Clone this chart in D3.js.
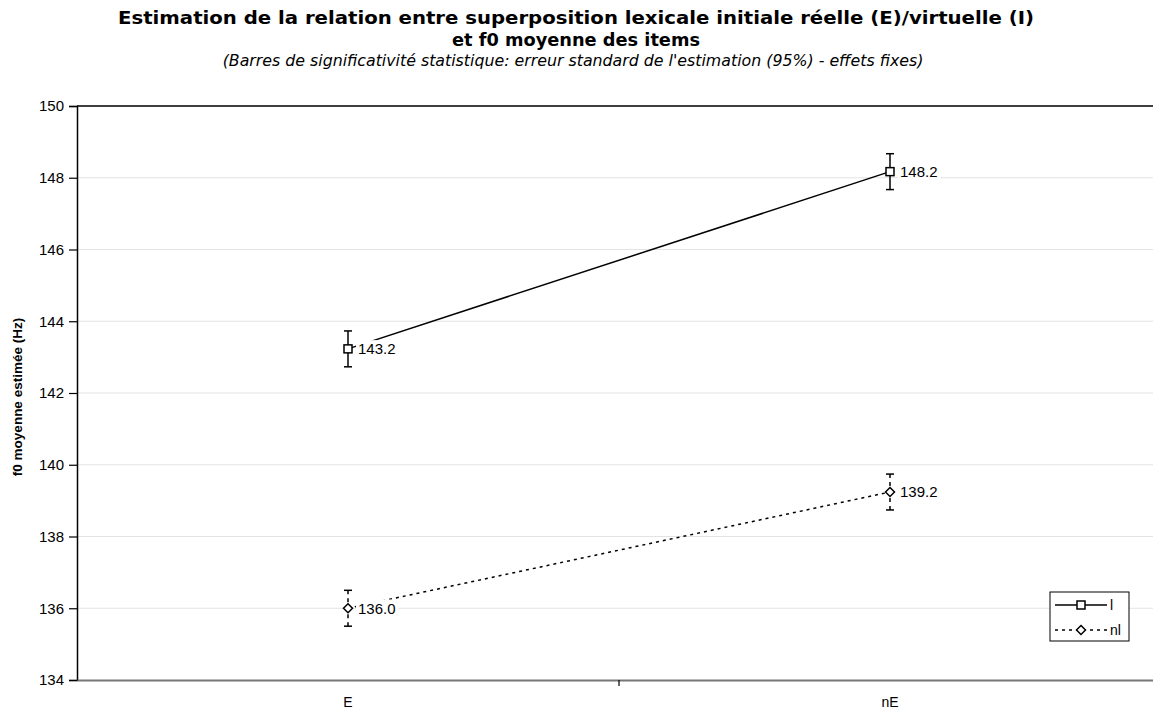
<!DOCTYPE html>
<html><head><meta charset="utf-8">
<script src="https://cdn.jsdelivr.net/npm/d3@7"></script>
<style>body{margin:0;background:#fff}svg{display:block}</style>
</head><body>
<svg id="c" width="1153" height="713"></svg>
<script>
const categories = ["E", "nE"];
const seriesNames = ["I", "nI"];
const valuesI = [143.23, 148.17];
const valuesNI = [136.0, 139.24];
const errI = [0.5, 0.5];
const errNI = [0.5, 0.5];
const yTicks = [134, 136, 138, 140, 142, 144, 146, 148, 150];
const labelsI = ["143.2", "148.2"];
const labelsNI = ["136.0", "139.2"];

const svg = d3.select("#c");
const m = {l: 77, r: 1161, t: 106, b: 680};
const x = d3.scaleBand().domain(categories).range([m.l, m.r]);
const y = d3.scaleLinear().domain([134, 150]).range([m.b, m.t]);
const cx = d => x(d) + x.bandwidth() / 2;

// title
svg.append("text").attr("x", 576).attr("y", 24).attr("text-anchor", "middle")
  .attr("textLength", 916).attr("lengthAdjust", "spacingAndGlyphs")
  .style("font", "bold 18px 'DejaVu Sans'").text("Estimation de la relation entre superposition lexicale initiale réelle (E)/virtuelle (I)");
svg.append("text").attr("x", 576).attr("y", 46).attr("text-anchor", "middle")
  .attr("textLength", 248).attr("lengthAdjust", "spacingAndGlyphs")
  .style("font", "bold 18px 'DejaVu Sans'").text("et f0 moyenne des items");
svg.append("text").attr("x", 573).attr("y", 66).attr("text-anchor", "middle")
  .style("font", "italic 15.8px 'DejaVu Sans'").text("(Barres de significativité statistique: erreur standard de l'estimation (95%) - effets fixes)");

// gridlines
svg.append("g").selectAll("line").data(yTicks.filter(t => t > 134 && t < 150)).join("line")
  .attr("x1", m.l).attr("x2", m.r).attr("y1", d => y(d)).attr("y2", d => y(d))
  .attr("stroke", "#e3e3e3").attr("stroke-width", 1);
// top border
svg.append("line").attr("x1", m.l).attr("x2", m.r).attr("y1", y(150)).attr("y2", y(150))
  .attr("stroke", "#000").attr("stroke-width", 1.5);

// y axis
const ya = svg.append("g").attr("transform", `translate(${m.l},0)`)
  .call(d3.axisLeft(y).tickValues(yTicks).tickSize(8).tickPadding(5).tickFormat(d3.format("d")));
ya.select(".domain").attr("stroke", "#000").attr("stroke-width", 1.5);
ya.selectAll(".tick line").attr("stroke", "#000").attr("stroke-width", 1.2);
ya.selectAll("text").style("font", "15px 'Liberation Sans', Arial").attr("fill", "#000");

// x axis
const xa = svg.append("g").attr("transform", `translate(0,${m.b})`)
  .call(d3.axisBottom(x).tickSize(0).tickPadding(14));
xa.select(".domain").attr("stroke", "#777").attr("stroke-width", 2);
xa.selectAll("text").style("font", "14px 'Liberation Sans', Arial").attr("fill", "#000").attr("dy", "0.9em");
svg.append("line").attr("x1", x("nE")).attr("x2", x("nE")).attr("y1", m.b).attr("y2", m.b + 6)
  .attr("stroke", "#000").attr("stroke-width", 1.2);

// y title
svg.append("text").attr("transform", `translate(22,${(m.t + m.b) / 2 + 4}) rotate(-90)`)
  .attr("text-anchor", "middle").style("font", "bold 13.5px 'Liberation Sans', Arial")
  .text("f0 moyenne estimée (Hz)");

const series = [
  {name: seriesNames[0], vals: valuesI, err: errI, labels: labelsI, dash: null, marker: "square"},
  {name: seriesNames[1], vals: valuesNI, err: errNI, labels: labelsNI, dash: "3,4", marker: "diamond"}
];
const line = d3.line().x((d, i) => cx(categories[i])).y(d => y(d));

function marker(g, type, px, py) {
  if (type === "square") {
    g.append("rect").attr("x", px - 4).attr("y", py - 4).attr("width", 8).attr("height", 8)
      .attr("fill", "#fff").attr("stroke", "#000").attr("stroke-width", 1.5);
  } else {
    g.append("path").attr("d", `M${px},${py - 4.5}L${px + 4.5},${py}L${px},${py + 4.5}L${px - 4.5},${py}Z`)
      .attr("fill", "#fff").attr("stroke", "#000").attr("stroke-width", 1.5);
  }
}

series.forEach(s => {
  const g = svg.append("g");
  g.append("path").datum(s.vals).attr("d", line).attr("fill", "none").attr("stroke", "#000")
    .attr("stroke-width", 1.5).attr("stroke-dasharray", s.dash);
  s.vals.forEach((v, i) => {
    const px = cx(categories[i]);
    g.append("line").attr("x1", px).attr("x2", px).attr("y1", y(v + s.err[i])).attr("y2", y(v - s.err[i]))
      .attr("stroke", "#000").attr("stroke-width", 1.5).attr("stroke-dasharray", s.dash ? "4,4" : null);
    [v + s.err[i], v - s.err[i]].forEach(e => {
      g.append("line").attr("x1", px - 4).attr("x2", px + 4).attr("y1", y(e)).attr("y2", y(e))
        .attr("stroke", "#000").attr("stroke-width", 1.5);
    });
  });
  s.vals.forEach((v, i) => {
    const px = cx(categories[i]);
    const t = g.append("text").attr("x", px + 10).attr("y", y(v)).attr("dy", "0.35em")
      .style("font", "15px 'Liberation Sans', Arial").text(s.labels[i]);
    const bb = t.node().getBBox();
    g.insert("rect", "text").attr("x", bb.x - 2).attr("y", bb.y).attr("width", bb.width + 5).attr("height", bb.height)
      .attr("fill", "#fff");
    marker(g, s.marker, px, y(v));
  });
});

// legend
const lg = svg.append("g");
lg.append("rect").attr("x", 1050).attr("y", 592).attr("width", 79).attr("height", 49)
  .attr("fill", "#fff").attr("stroke", "#000").attr("stroke-width", 1);
series.forEach((s, i) => {
  const ly = 605 + i * 25;
  lg.append("line").attr("x1", 1055).attr("x2", 1107).attr("y1", ly).attr("y2", ly)
    .attr("stroke", "#000").attr("stroke-width", 1.5).attr("stroke-dasharray", s.dash);
  marker(lg, s.marker, 1081, ly);
  lg.append("text").attr("x", 1110).attr("y", ly).attr("dy", "0.35em")
    .style("font", "14px 'Liberation Sans', Arial").text(s.name === "nI" ? "nl" : "l");
});
</script>
</body></html>
